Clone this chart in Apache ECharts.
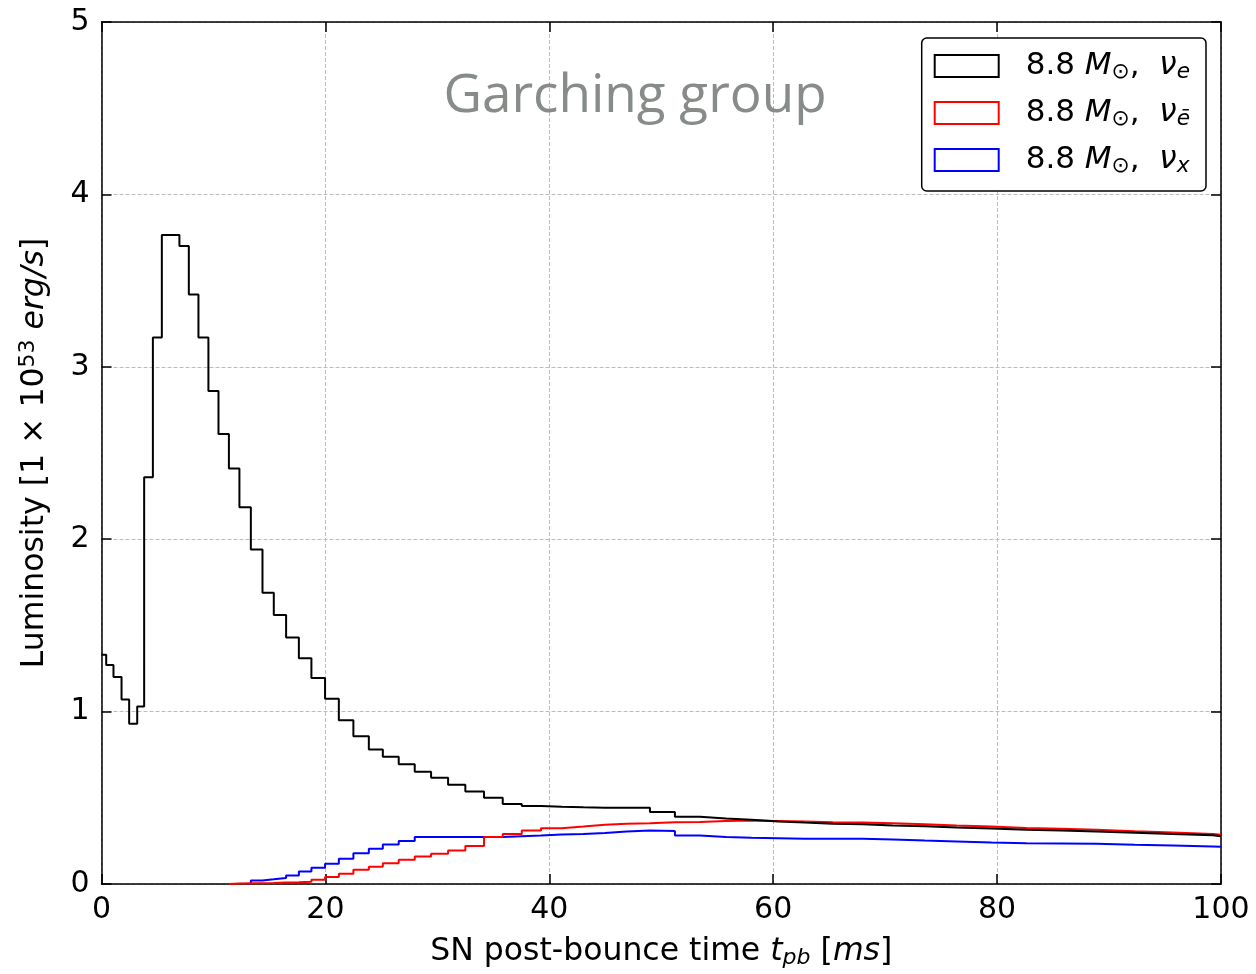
<!DOCTYPE html>
<html>
<head>
<meta charset="utf-8">
<script src="https://cdn.jsdelivr.net/npm/echarts@6/dist/echarts.min.js"></script>
<style>
  html, body { margin: 0; padding: 0; background: #fff; }
  #chart { width: 1256px; height: 974px; }
</style>
</head>
<body>
<div id="chart"></div>
<script>
// bin edges in ms
const binEdges = [
  0, 0.42, 1.07, 1.79, 2.47, 3.19, 3.81, 4.59, 5.39, 6.18,
  6.96, 7.80, 8.66, 9.55, 10.45, 11.38, 12.32, 13.34, 14.38, 15.39,
  16.49, 17.63, 18.75, 19.97, 21.20, 22.50, 23.88, 25.13, 26.55, 27.98,
  29.44, 30.96, 32.50, 34.17, 35.84, 37.54, 39.26, 41.11, 43.04, 44.97,
  46.91, 48.99, 51.22, 53.46, 55.78, 58.07, 60.45, 62.83, 65.33, 68.00,
  70.68, 73.54, 76.37, 79.50, 82.62, 85.75, 88.88, 92.30, 95.69, 99.26,
  100
];

// luminosity per bin, 1e53 erg/s
const nuE = [
  1.33, 1.27, 1.20, 1.07, 0.93, 1.03, 2.36, 3.17, 3.765, 3.765,
  3.70, 3.42, 3.17, 2.86, 2.61, 2.41, 2.185, 1.94, 1.69, 1.56,
  1.43, 1.31, 1.195, 1.075, 0.95, 0.857, 0.78, 0.738, 0.694, 0.651,
  0.617, 0.576, 0.537, 0.50, 0.464, 0.452, 0.448, 0.445, 0.443, 0.443,
  0.443, 0.418, 0.39, 0.38, 0.372, 0.363, 0.356, 0.35, 0.346, 0.34,
  0.335, 0.328, 0.322, 0.315, 0.31, 0.304, 0.297, 0.29, 0.283, 0.277
];
const nuEbar = [
  0, 0, 0, 0, 0, 0, 0, 0, 0, 0,
  0, 0, 0, 0, 0, 0.003, 0.004, 0.005, 0.006, 0.008,
  0.01, 0.013, 0.025, 0.04, 0.06, 0.083, 0.10, 0.12, 0.14, 0.16,
  0.175, 0.195, 0.22, 0.272, 0.29, 0.31, 0.324, 0.333, 0.343, 0.349,
  0.352, 0.358, 0.36, 0.365, 0.368, 0.365, 0.362, 0.358, 0.357, 0.352,
  0.347, 0.339, 0.333, 0.325, 0.32, 0.314, 0.306, 0.299, 0.29, 0.285
];
const nuX = [
  0, 0, 0, 0, 0, 0, 0, 0, 0, 0,
  0, 0, 0, 0, 0, 0, 0, 0.02, 0.027, 0.035,
  0.05, 0.073, 0.094, 0.117, 0.146, 0.179, 0.204, 0.229, 0.249, 0.272,
  0.273, 0.273, 0.273, 0.273, 0.277, 0.281, 0.287, 0.29, 0.296, 0.304,
  0.31, 0.308, 0.281, 0.272, 0.268, 0.266, 0.262, 0.262, 0.262, 0.258,
  0.252, 0.247, 0.241, 0.237, 0.235, 0.233, 0.227, 0.223, 0.218, 0.216
];

const seriesNames = ['nu_e', 'nu_ebar', 'nu_x'];
const seriesColors = ['#000000', '#ff0000', '#0000ff'];
const legendLabels = {
  nu_e: '{sp|}8.8 {i|M}{sub|⊙},  {i|ν}{sub|e}',
  nu_ebar: '{sp|}8.8 {i|M}{sub|⊙},  {i|ν}{sub|ē}',
  nu_x: '{sp|}8.8 {i|M}{sub|⊙},  {i|ν}{sub|x}'
};

const FONT = '"DejaVu Sans", sans-serif';
const FS = 31.5;

// step histogram points; leading empty bins sit on the axis, so skip them
function stepData(vals) {
  let start = 0;
  while (start < vals.length && vals[start] === 0) start++;
  let pts = [];
  if (start > 0) pts.push([binEdges[start], 0]);
  for (let i = start; i < vals.length; i++) {
    pts.push([binEdges[i], vals[i]]);
  }
  pts.push([binEdges[vals.length], vals[vals.length - 1]]);
  return pts;
}

function richFor(size) {
  return {
    i: { fontStyle: 'italic', fontFamily: FONT, fontSize: size, lineHeight: 34 },
    sub: { fontStyle: 'italic', fontFamily: FONT, fontSize: size * 0.7, lineHeight: 18, verticalAlign: 'bottom' },
    sup: { fontFamily: FONT, fontSize: size * 0.7, lineHeight: 18, verticalAlign: 'top' },
    sp: { width: 22 }
  };
}

var chart = echarts.init(document.getElementById('chart'));

var option = {
  animation: false,
  backgroundColor: '#ffffff',
  title: {
    text: 'Garching group',
    left: 630,
    top: 65,
    textAlign: 'center',
    textStyle: {
      fontFamily: '"Open Sans", sans-serif',
      fontWeight: 500,
      fontSize: 53,
      color: '#878c88'
    }
  },
  grid: {
    left: 101.5,
    top: 22,
    width: 1119.5,
    height: 865,
    containLabel: false
  },
  legend: {
    orient: 'vertical',
    right: 50,
    top: 38,
    padding: [11, 16, 14, 12],
    itemWidth: 64,
    itemHeight: 22,
    itemGap: 13,
    borderColor: '#000',
    borderWidth: 1.5,
    borderRadius: 5,
    backgroundColor: '#fff',
    icon: 'rect',
    data: seriesNames.map(function (n, k) {
      return {
        name: n,
        itemStyle: { color: 'rgba(0,0,0,0)', borderColor: seriesColors[k], borderWidth: 2 }
      };
    }),
    formatter: function (name) { return legendLabels[name]; },
    textStyle: {
      fontFamily: FONT,
      fontSize: 31,
      lineHeight: 34,
      color: '#000',
      rich: richFor(31)
    }
  },
  xAxis: [
    {
      type: 'value',
      min: 0,
      max: 100,
      interval: 20,
      name: 'SN post-bounce time {i|t}{sub|pb} [{i|ms}]',
      nameLocation: 'middle',
      nameGap: 51,
      nameTextStyle: { fontFamily: FONT, fontSize: FS, lineHeight: 34, color: '#000', rich: richFor(FS) },
      axisLine: { onZero: false, lineStyle: { color: '#000', width: 1.5 } },
      axisTick: { inside: true, length: 10, lineStyle: { color: '#000', width: 1.5 } },
      axisLabel: { fontFamily: FONT, fontSize: 30, color: '#000', margin: 11 },
      splitLine: { show: true, lineStyle: { color: '#bdbdbd', width: 1, type: [4, 2] } }
    },
    {
      type: 'value',
      position: 'top',
      min: 0,
      max: 100,
      interval: 20,
      axisLine: { onZero: false, lineStyle: { color: '#000', width: 1.5 } },
      axisTick: { inside: true, length: 10, lineStyle: { color: '#000', width: 1.5 } },
      axisLabel: { show: false },
      splitLine: { show: false }
    }
  ],
  yAxis: [
    {
      type: 'value',
      min: 0,
      max: 5,
      interval: 1,
      name: 'Luminosity [1 × 10{sup|53} {i|erg/s}]',
      nameLocation: 'middle',
      nameGap: 50,
      nameRotate: 90,
      nameTextStyle: { fontFamily: FONT, fontSize: FS, lineHeight: 34, color: '#000', rich: richFor(FS) },
      axisLine: { onZero: false, lineStyle: { color: '#000', width: 1.5 } },
      axisTick: { inside: true, length: 10, lineStyle: { color: '#000', width: 1.5 } },
      axisLabel: { fontFamily: FONT, fontSize: 30, color: '#000', margin: 12 },
      splitLine: { show: true, lineStyle: { color: '#bdbdbd', width: 1, type: [4, 2] } }
    },
    {
      type: 'value',
      position: 'right',
      min: 0,
      max: 5,
      interval: 1,
      axisLine: { onZero: false, lineStyle: { color: '#000', width: 1.5 } },
      axisTick: { inside: true, length: 10, lineStyle: { color: '#000', width: 1.5 } },
      axisLabel: { show: false },
      splitLine: { show: false }
    }
  ],
  series: [nuE, nuEbar, nuX].map(function (vals, k) {
    return {
      name: seriesNames[k],
      type: 'line',
      step: 'end',
      data: stepData(vals),
      showSymbol: false,
      symbol: 'none',
      clip: true,
      color: seriesColors[k],
      lineStyle: { color: seriesColors[k], width: 2 },
      z: 3 - k
    };
  })
};

chart.setOption(option);
</script>
</body>
</html>
